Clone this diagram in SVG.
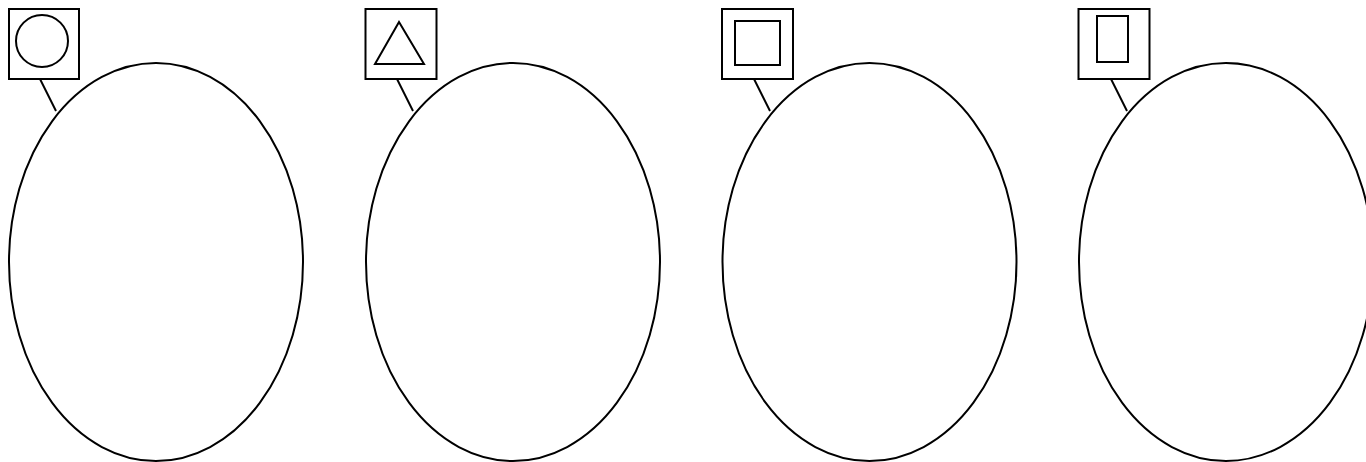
<svg xmlns="http://www.w3.org/2000/svg" width="1366" height="462" viewBox="0 0 1366 462">
<style>
.s{fill:none;stroke:#000;stroke-width:2}
.b{fill:#fff;stroke:#000;stroke-width:2}
</style>
<rect width="1366" height="462" fill="#fff"/>
<g id="connectors">
<line class="s" x1="40" y1="79" x2="56" y2="111"/>
<line class="s" x1="397" y1="79" x2="413" y2="111"/>
<line class="s" x1="754" y1="79" x2="770" y2="111"/>
<line class="s" x1="1111" y1="79" x2="1127" y2="111"/>
</g>
<g id="set1"><ellipse class="s" cx="156" cy="262" rx="147" ry="199"/></g>
<g id="set2"><ellipse class="s" cx="513" cy="262" rx="147" ry="199"/></g>
<g id="set3"><ellipse class="s" cx="869.5" cy="262" rx="147" ry="199"/></g>
<g id="set4"><ellipse class="s" cx="1226" cy="262" rx="147" ry="199"/></g>
<g id="label1">
<rect class="b" x="9" y="9" width="70" height="70"/>
<circle class="s" cx="42" cy="41" r="26"/>
</g>
<g id="label2">
<rect class="b" x="365.5" y="9" width="71" height="70"/>
<polygon class="s" points="399,22 375,64 424,64"/>
</g>
<g id="label3">
<rect class="b" x="722" y="9" width="71" height="70"/>
<rect class="s" x="735" y="21" width="45" height="44"/>
</g>
<g id="label4">
<rect class="b" x="1078.5" y="9" width="71" height="70"/>
<rect class="s" x="1097" y="16" width="31" height="46"/>
</g>
</svg>
